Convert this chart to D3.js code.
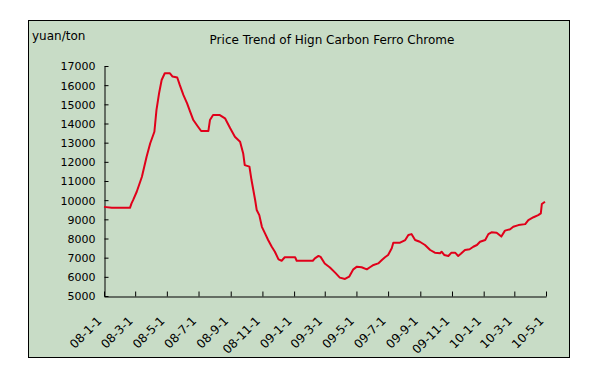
<!DOCTYPE html>
<html><head><meta charset="utf-8">
<script src="https://cdn.jsdelivr.net/npm/d3@7"></script>
<style>
html,body{margin:0;padding:0;background:#fff;}
svg{display:block;}
text{font-family:"DejaVu Sans",Verdana,sans-serif;fill:#000;}
</style></head>
<body><svg id="c" width="595" height="368"></svg>
<script>
const title = "Price Trend of Hign Carbon Ferro Chrome";
const unitLabel = "yuan/ton";
const dates = ["2008-01-01","2008-01-16","2008-02-20","2008-02-23","2008-02-26","2008-03-04","2008-03-14","2008-03-23","2008-03-30","2008-04-07","2008-04-11","2008-04-16","2008-04-21","2008-04-27","2008-05-07","2008-05-12","2008-05-21","2008-05-26","2008-06-02","2008-06-09","2008-06-15","2008-06-21","2008-06-29","2008-07-06","2008-07-20","2008-07-23","2008-07-29","2008-08-11","2008-08-21","2008-08-31","2008-09-09","2008-09-19","2008-09-25","2008-09-28","2008-10-07","2008-10-11","2008-10-18","2008-10-21","2008-10-26","2008-10-31","2008-11-06","2008-11-12","2008-11-19","2008-11-25","2008-12-02","2008-12-08","2008-12-14","2009-01-03","2009-01-06","2009-02-06","2009-02-10","2009-02-17","2009-02-21","2009-03-01","2009-03-11","2009-03-21","2009-03-30","2009-04-09","2009-04-17","2009-04-25","2009-05-02","2009-05-11","2009-05-21","2009-05-27","2009-06-03","2009-06-12","2009-06-19","2009-06-25","2009-07-01","2009-07-08","2009-07-11","2009-07-24","2009-08-03","2009-08-09","2009-08-15","2009-08-22","2009-08-31","2009-09-10","2009-09-20","2009-09-29","2009-10-09","2009-10-12","2009-10-17","2009-10-25","2009-10-31","2009-11-07","2009-11-13","2009-11-18","2009-11-26","2009-12-05","2009-12-12","2009-12-19","2009-12-25","2010-01-04","2010-01-10","2010-01-16","2010-01-26","2010-02-04","2010-02-11","2010-02-21","2010-02-27","2010-03-09","2010-03-22","2010-03-28","2010-04-07","2010-04-16","2010-04-21","2010-04-23","2010-04-29"];
const prices = [9650,9600,9600,9830,10000,10440,11220,12270,12970,13570,14700,15570,16270,16620,16620,16450,16400,16000,15480,15050,14610,14180,13870,13610,13610,14180,14440,14440,14270,13750,13310,13050,12440,11830,11750,11050,10010,9490,9220,8610,8270,7920,7570,7310,6910,6840,7020,7020,6840,6840,6960,7090,7040,6700,6490,6220,5960,5890,6010,6390,6530,6500,6390,6500,6620,6700,6880,7020,7140,7490,7780,7780,7920,8180,8230,7920,7830,7660,7400,7260,7230,7310,7140,7090,7260,7260,7090,7200,7400,7440,7570,7660,7830,7920,8230,8320,8300,8100,8410,8480,8610,8700,8750,8960,9110,9220,9310,9800,9920];
const yTicks = [5000,6000,7000,8000,9000,10000,11000,12000,13000,14000,15000,16000,17000];
const xTickLabels = ["08-1-1","08-3-1","08-5-1","08-7-1","08-9-1","08-11-1","09-1-1","09-3-1","09-5-1","09-7-1","09-9-1","09-11-1","10-1-1","10-3-1","10-5-1"];

const parse = d3.timeParse("%Y-%m-%d");
const parseTick = d3.timeParse("%y-%m-%d");
const data = dates.map((d,i)=>({date:parse(d), value:prices[i]}));
const tickDates = xTickLabels.map(s=>parseTick(s));

const svg = d3.select("#c");
svg.append("rect").attr("x",28.5).attr("y",20.5).attr("width",541).attr("height",337)
  .attr("fill","#c8dcc6").attr("stroke","#000").attr("stroke-width",1);

const x = d3.scaleTime().domain([tickDates[0], tickDates[tickDates.length-1]]).range([104,546]);
const y = d3.scaleLinear().domain([5000,17000]).range([296,66]);

// y axis
const ya = svg.append("g").attr("transform","translate(104.5,0)")
  .call(d3.axisLeft(y).tickValues(yTicks).tickSizeInner(-4).tickSizeOuter(0).tickPadding(9).tickFormat(d3.format("d")));
ya.select(".domain").attr("stroke","#000");
ya.selectAll(".tick line").attr("stroke","#000");
ya.selectAll("text").style("font-size","11px").attr("dy","0.35em");

// x axis
const xa = svg.append("g").attr("transform","translate(0,296.5)")
  .call(d3.axisBottom(x).tickValues(tickDates).tickSizeInner(-5).tickSizeOuter(0).tickFormat((d,i)=>xTickLabels[i]));
xa.select(".domain").attr("stroke","#000");
xa.selectAll(".tick line").attr("stroke","#000");
xa.selectAll(".tick text").attr("y",0).attr("dy",0)
  .attr("text-anchor","end")
  .attr("transform","translate(-2,25) rotate(-45)")
  .style("font-size","12px");

// line
svg.append("path").datum(data)
  .attr("fill","none").attr("stroke","#e0001a").attr("stroke-width",2)
  .attr("stroke-linejoin","round")
  .attr("d", d3.line().x(d=>x(d.date)).y(d=>y(d.value)));

svg.append("text").attr("x",32).attr("y",40).style("font-size","12px").text(unitLabel);
svg.append("text").attr("x",332).attr("y",44).attr("text-anchor","middle").style("font-size","12px").text(title);
</script></body></html>
